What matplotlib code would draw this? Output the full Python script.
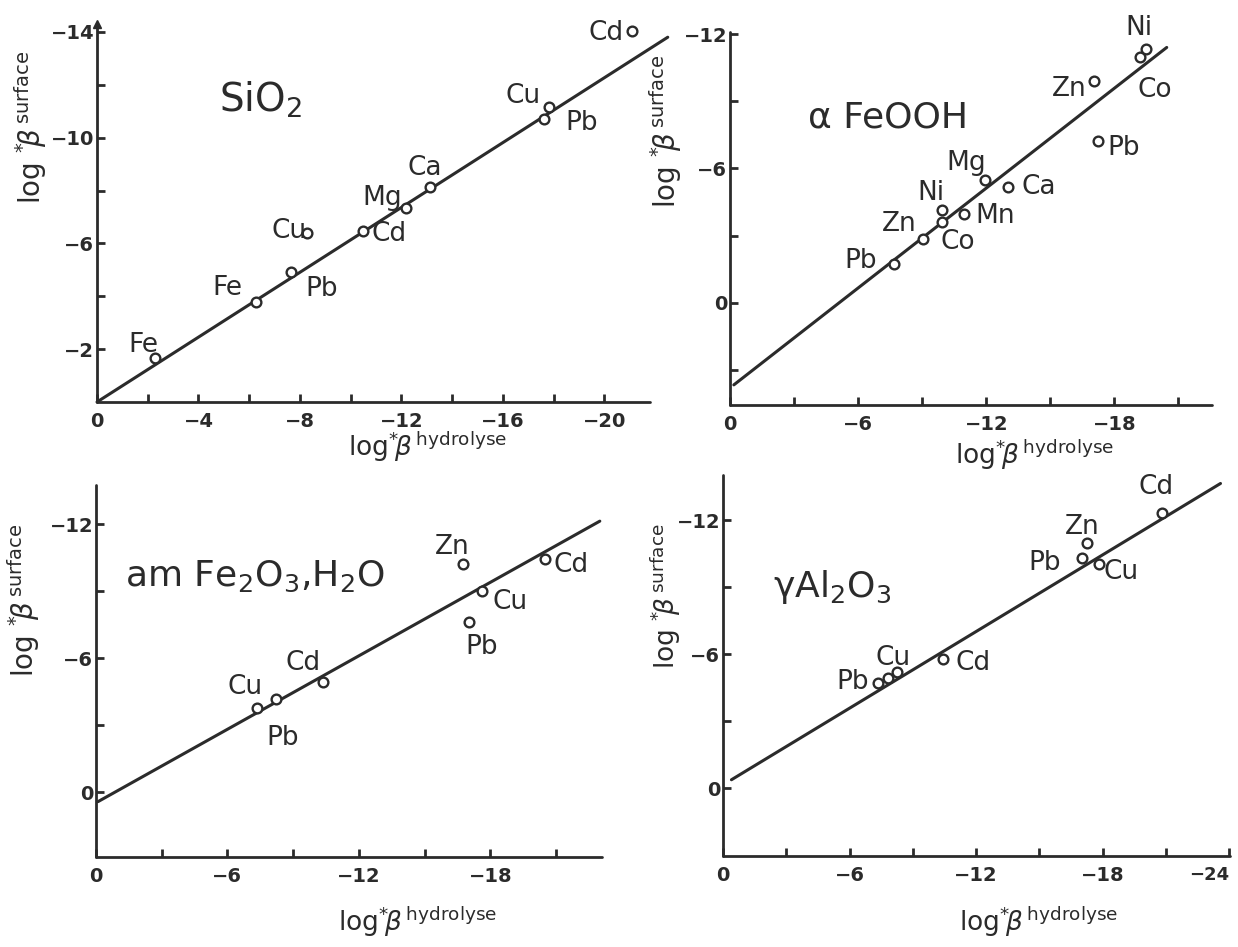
import matplotlib.pyplot as plt

W, H = 1238, 947
INK = '#2b2b2b'

# ---- data: x = log*beta hydrolyse, y = log*beta surface ----
sio2_ions = ['Fe', 'Fe', 'Pb', 'Cu', 'Cd', 'Mg', 'Ca', 'Pb', 'Cu', 'Cd']
sio2_hyd = [-2.27, -6.26, -7.66, -8.29, -10.48, -12.19, -13.13, -17.61, -17.83, -21.08]
sio2_surf = [-1.68, -3.77, -4.90, -6.39, -6.48, -7.34, -8.14, -10.71, -11.17, -14.03]
sio2_fit_x = [0.0, -22.5]
sio2_fit_y = [0.0, -13.8]

feooh_ions = ['Pb', 'Zn', 'Co', 'Ni', 'Mn', 'Mg', 'Ca', 'Zn', 'Pb', 'Co', 'Ni']
feooh_hyd = [-7.68, -9.05, -9.91, -9.91, -10.98, -11.96, -13.04, -17.05, -17.23, -19.20, -19.46]
feooh_surf = [-1.75, -2.87, -3.61, -4.13, -3.98, -5.47, -5.17, -9.93, -7.25, -10.97, -11.34]
feooh_fit_x = [-0.18, -20.45]
feooh_fit_y = [3.67, -11.41]

fe2o3_ions = ['Cu', 'Pb', 'Cd', 'Zn', 'Pb', 'Cu', 'Cd']
fe2o3_hyd = [-7.33, -8.23, -10.35, -16.75, -17.03, -17.63, -20.52]
fe2o3_surf = [-3.76, -4.16, -4.96, -10.25, -7.64, -9.01, -10.45]
fe2o3_fit_x = [-0.09, -23.0]
fe2o3_fit_y = [0.42, -12.15]

al2o3_ions = ['Pb', '', 'Cu', 'Cd', 'Pb', 'Zn', 'Cu', 'Cd']
al2o3_hyd = [-7.35, -7.82, -8.27, -10.42, -17.03, -17.25, -17.80, -20.83]
al2o3_surf = [-4.71, -4.93, -5.20, -5.78, -10.30, -10.97, -10.04, -12.34]
al2o3_fit_x = [-0.40, -23.58]
al2o3_fit_y = [-0.37, -13.66]

# label offsets in pixels (dx right, dy up)
sio2_off = [(-11, 13), (-28, 14), (30, -17), (-18, 2), (26, -3), (-24, 10), (-5, 19), (38, -4), (-26, 11), (-26, -2)]
feooh_off = [(-33, 3), (-24, 15), (16, -20), (-11, 17), (31, -2), (-19, 17), (30, 0), (-25, -8), (26, -7), (15, -33), (-7, 21)]
fe2o3_off = [(-11, 21), (6, -39), (-20, 19), (-11, 17), (13, -25), (28, -11), (26, -6)]
al2o3_off = [(-25, 1), (0, 0), (-4, 14), (30, -4), (-38, -5), (-5, 16), (23, -8), (-6, 26)]

plt.rcParams['font.family'] = 'DejaVu Sans'
plt.rcParams['mathtext.fontset'] = 'dejavusans'

fig = plt.figure(figsize=(W / 100, H / 100), dpi=100)
fig.patch.set_facecolor('white')


def make_ax(left, right, top, bottom):
    return fig.add_axes([left / W, 1 - bottom / H, (right - left) / W, (bottom - top) / H])


def tick_text(v):
    return '0' if v == 0 else '\u2212%d' % abs(v)


def panel(ax, xs, ys, names, offs, fx, fy, xlim, ylim, xticks, xlab, yticks, ylab):
    ax.set_xlim(xlim)
    ax.set_ylim(ylim)
    ax.patch.set_alpha(0)
    for s in ['top', 'right']:
        ax.spines[s].set_visible(False)
    for s in ['left', 'bottom']:
        ax.spines[s].set_linewidth(2.0)
        ax.spines[s].set_color(INK)
        ax.spines[s].set_capstyle('round')
    ax.set_xticks(xticks)
    ax.set_xticklabels([tick_text(v) if v in xlab else '' for v in xticks])
    ax.set_yticks(yticks)
    ax.set_yticklabels([tick_text(v) if v in ylab else '' for v in yticks])
    ax.tick_params(direction='in', length=6, width=2, color=INK, labelcolor=INK,
                   labelsize=14)
    ax.tick_params(axis='x', pad=7)
    ax.tick_params(axis='y', pad=2)
    for t in ax.get_xticklabels() + ax.get_yticklabels():
        t.set_fontweight('bold')
    ax.plot(fx, fy, color=INK, lw=2.2, clip_on=False, solid_capstyle='round', zorder=2)
    ax.plot(xs, ys, 'o', ms=7, mfc='white', mec=INK, mew=1.7, zorder=3, clip_on=False)
    for x, y, n, (dx, dy) in zip(xs, ys, names, offs):
        if n:
            ax.annotate(n, (x, y), xytext=(dx, dy), textcoords='offset pixels',
                        ha='center', va='center', fontsize=19, color=INK)


def fig_text(px, py, s, **kw):
    fig.text(px / W, 1 - py / H, s, ha='center', va='center', color=INK, **kw)


ylab_txt = r'log $^{*}\!\beta^{\,\mathrm{surface}}$'
xlab_txt = r'log$^{*}\!\beta^{\,\mathrm{hydrolyse}}$'

ax1 = make_ax(97, 650, 24, 402)
panel(ax1, sio2_hyd, sio2_surf, sio2_ions, sio2_off, sio2_fit_x, sio2_fit_y,
      (0, -21.8), (0, -14.3), list(range(0, -22, -2)), [0, -4, -8, -12, -16, -20],
      list(range(-2, -15, -2)), [-2, -6, -10, -14])
ax1.plot([0], [-14.3], marker='^', ms=6, color=INK, clip_on=False)

ax2 = make_ax(730, 1212, 32, 405)
panel(ax2, feooh_hyd, feooh_surf, feooh_ions, feooh_off, feooh_fit_x, feooh_fit_y,
      (0, -22.57), (4.57, -12.1), list(range(0, -22, -3)), [0, -6, -12, -18],
      list(range(3, -13, -3)), [0, -6, -12])

ax3 = make_ax(96, 602, 485, 857)
panel(ax3, fe2o3_hyd, fe2o3_surf, fe2o3_ions, fe2o3_off, fe2o3_fit_x, fe2o3_fit_y,
      (0, -23.1), (2.9, -13.77), list(range(0, -22, -3)), [0, -6, -12, -18],
      list(range(0, -13, -3)), [0, -6, -12])

ax4 = make_ax(723, 1230, 475, 856)
panel(ax4, al2o3_hyd, al2o3_surf, al2o3_ions, al2o3_off, al2o3_fit_x, al2o3_fit_y,
      (0, -24.03), (3.05, -14.04), list(range(0, -25, -3)), [0, -6, -12, -18, -24],
      list(range(0, -13, -3)), [0, -6, -12])
last = ax4.get_xticklabels()[-1]
last.set_horizontalalignment('right')
last.set_fontsize(13)

# panel names
fig_text(261, 100, r'SiO$_2$', fontsize=28)
fig_text(888, 117, '\u03b1 FeOOH', fontsize=26)
fig_text(255, 576, r'am Fe$_2$O$_3$,H$_2$O', fontsize=26)
fig_text(832, 587, '\u03b3Al$_2$O$_3$', fontsize=26)

# axis titles
fig_text(31, 127, ylab_txt, fontsize=20, rotation=90)
fig_text(666, 131, ylab_txt, fontsize=20, rotation=90)
fig_text(24, 600, ylab_txt, fontsize=20, rotation=90)
fig_text(666, 596, ylab_txt, fontsize=19, rotation=90)
fig_text(428, 447, xlab_txt, fontsize=19)
fig_text(1035, 455, xlab_txt, fontsize=19)
fig_text(418, 922, xlab_txt, fontsize=19)
fig_text(1039, 922, xlab_txt, fontsize=19)

fig.savefig('out.png', dpi=100, facecolor='white')
